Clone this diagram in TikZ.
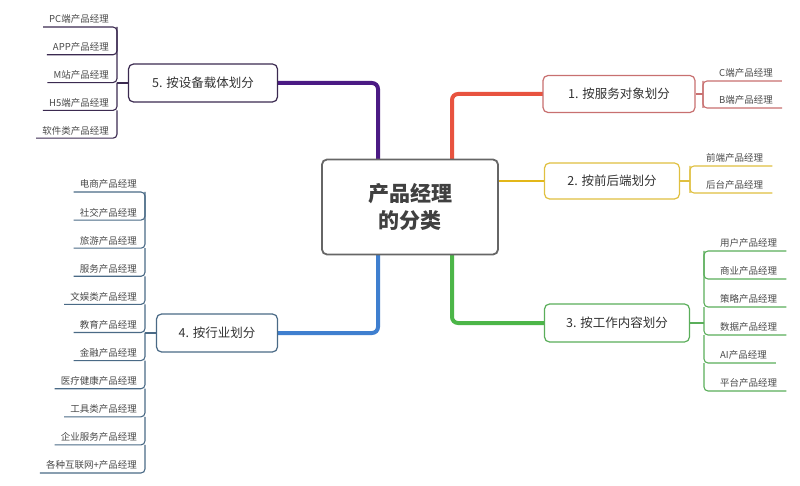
\documentclass[tikz,border=0pt]{standalone}
\usepackage{fontspec}
\setmainfont{Noto Sans CJK SC}
\usetikzlibrary{calc}
\definecolor{cpur}{HTML}{4B1A84}
\definecolor{cred}{HTML}{E8533F}
\definecolor{cyel}{HTML}{E3B719}
\definecolor{cgrn}{HTML}{4CB648}
\definecolor{cblu}{HTML}{3F7FCF}
\definecolor{lpur}{HTML}{3B2A50}
\definecolor{lred}{HTML}{C87070}
\definecolor{lyel}{HTML}{E0C040}
\definecolor{lgrn}{HTML}{5AAE5A}
\definecolor{lblu}{HTML}{4A6A86}
\definecolor{txt}{HTML}{4A4A4A}
\tikzset{
 leaftext/.style={font=\fontsize{9.5}{10}\selectfont, text=txt, inner sep=1pt},
 leafline/.style={line width=1.1pt, rounded corners=4pt},
 catbox/.style={draw, line width=1.2pt, rounded corners=5pt, fill=white, font=\fontsize{12.5}{14}\selectfont, text=black!80},
 trunk/.style={line width=4pt, rounded corners=6pt},
}
% #1 prefix #2 bracket x #3 first underline y #4 spacing #5 colour #6 list
\newcommand\leftgroup[6]{%
 \foreach \t [count=\i] in {#6}{%
  \pgfmathsetmacro\uy{#3+(\i-1)*#4}%
  \pgfmathsetmacro\ty{\i==1 ? #3+#4 : \uy-#4}%
  \node[leaftext, anchor=south east] (#1-\i) at (#2-7,\uy-2) {\t};%
  \draw[leafline,#5] let \p1=(#1-\i.west) in (\x1-5pt,\uy) -| (#2,\ty);%
 }}
\newcommand\rightgroup[6]{%
 \foreach \t [count=\i] in {#6}{%
  \pgfmathsetmacro\uy{#3+(\i-1)*#4}%
  \pgfmathsetmacro\ty{\i==1 ? #3+#4 : \uy-#4}%
  \node[leaftext, anchor=south west] (#1-\i) at (#2+15,\uy-2) {\t};%
  \draw[leafline,#5] let \p1=(#1-\i.east) in (\x1+8pt,\uy) -| (#2,\ty);%
 }}
\begin{document}
\begin{tikzpicture}[x=1pt,y=-1pt]
\useasboundingbox (0,0) rectangle (800,486);
\fill[white] (0,0) rectangle (800,486);
\coordinate (tp) at (378,160);
\coordinate (tr) at (452,160);
\coordinate (tg) at (452,255);
\coordinate (tb) at (378,255);
\coordinate (p5) at (203,83);
\coordinate (p1) at (619,94);
\coordinate (p3) at (617,323);
\coordinate (p4) at (217,333);
\draw[trunk, cpur] (p5) -| (tp);
\draw[trunk, cred] (tr) |- (p1);
\draw[trunk, cgrn] (tg) |- (p3);
\draw[trunk, cblu] (tb) |- (p4);
\node[catbox, draw=lpur, minimum width=149pt, minimum height=38pt] (b5) at (p5) {5. 按设备载体划分};
\node[catbox, draw=lred, minimum width=152pt, minimum height=37pt] (b1) at (p1) {1. 按服务对象划分};
\node[catbox, draw=lyel, minimum width=135pt, minimum height=36pt] (b2) at (612,181) {2. 按前后端划分};
\node[catbox, draw=lgrn, minimum width=145pt, minimum height=38pt] (b3) at (p3) {3. 按工作内容划分};
\node[catbox, draw=lblu, minimum width=121pt, minimum height=38pt] (b4) at (p4) {4. 按行业划分};
\node[draw=gray!80!black, line width=1.8pt, rounded corners=5pt, fill=white, minimum width=176pt, minimum height=95pt, align=center, font=\fontsize{21}{27}\selectfont\bfseries, text=black!75] (c) at (410,207) {产品经理\\的分类};
\draw[line width=2pt, cyel] (c.east |- b2.west) -- (b2.west);
\coordinate (k5) at (117,0);
\coordinate (k1) at (703,0);
\coordinate (k2) at (690,0);
\coordinate (k3) at (704,0);
\coordinate (k4) at (145,0);
\leftgroup{g5}{117}{27}{27.8}{lpur}{PC端产品经理,APP产品经理,M站产品经理,H5端产品经理,软件类产品经理}
\leftgroup{g4}{145}{192}{28.1}{lblu}{电商产品经理,社交产品经理,旅游产品经理,服务产品经理,文娱类产品经理,教育产品经理,金融产品经理,医疗健康产品经理,工具类产品经理,企业服务产品经理,各种互联网+产品经理}
\rightgroup{g1}{703}{81}{27}{lred}{C端产品经理,B端产品经理}
\rightgroup{g2}{690}{166}{27}{lyel}{前端产品经理,后台产品经理}
\rightgroup{g3}{704}{251}{28}{lgrn}{用户产品经理,商业产品经理,策略产品经理,数据产品经理,AI产品经理,平台产品经理}
\draw[leafline, lpur] (b5.west) -- (b5.west -| k5);
\draw[leafline, lblu] (b4.west) -- (b4.west -| k4);
\draw[leafline, lred] (b1.east) -- (b1.east -| k1);
\draw[leafline, lyel] (b2.east) -- (b2.east -| k2);
\draw[leafline, lgrn] (b3.east) -- (b3.east -| k3);
\end{tikzpicture}
\end{document}
